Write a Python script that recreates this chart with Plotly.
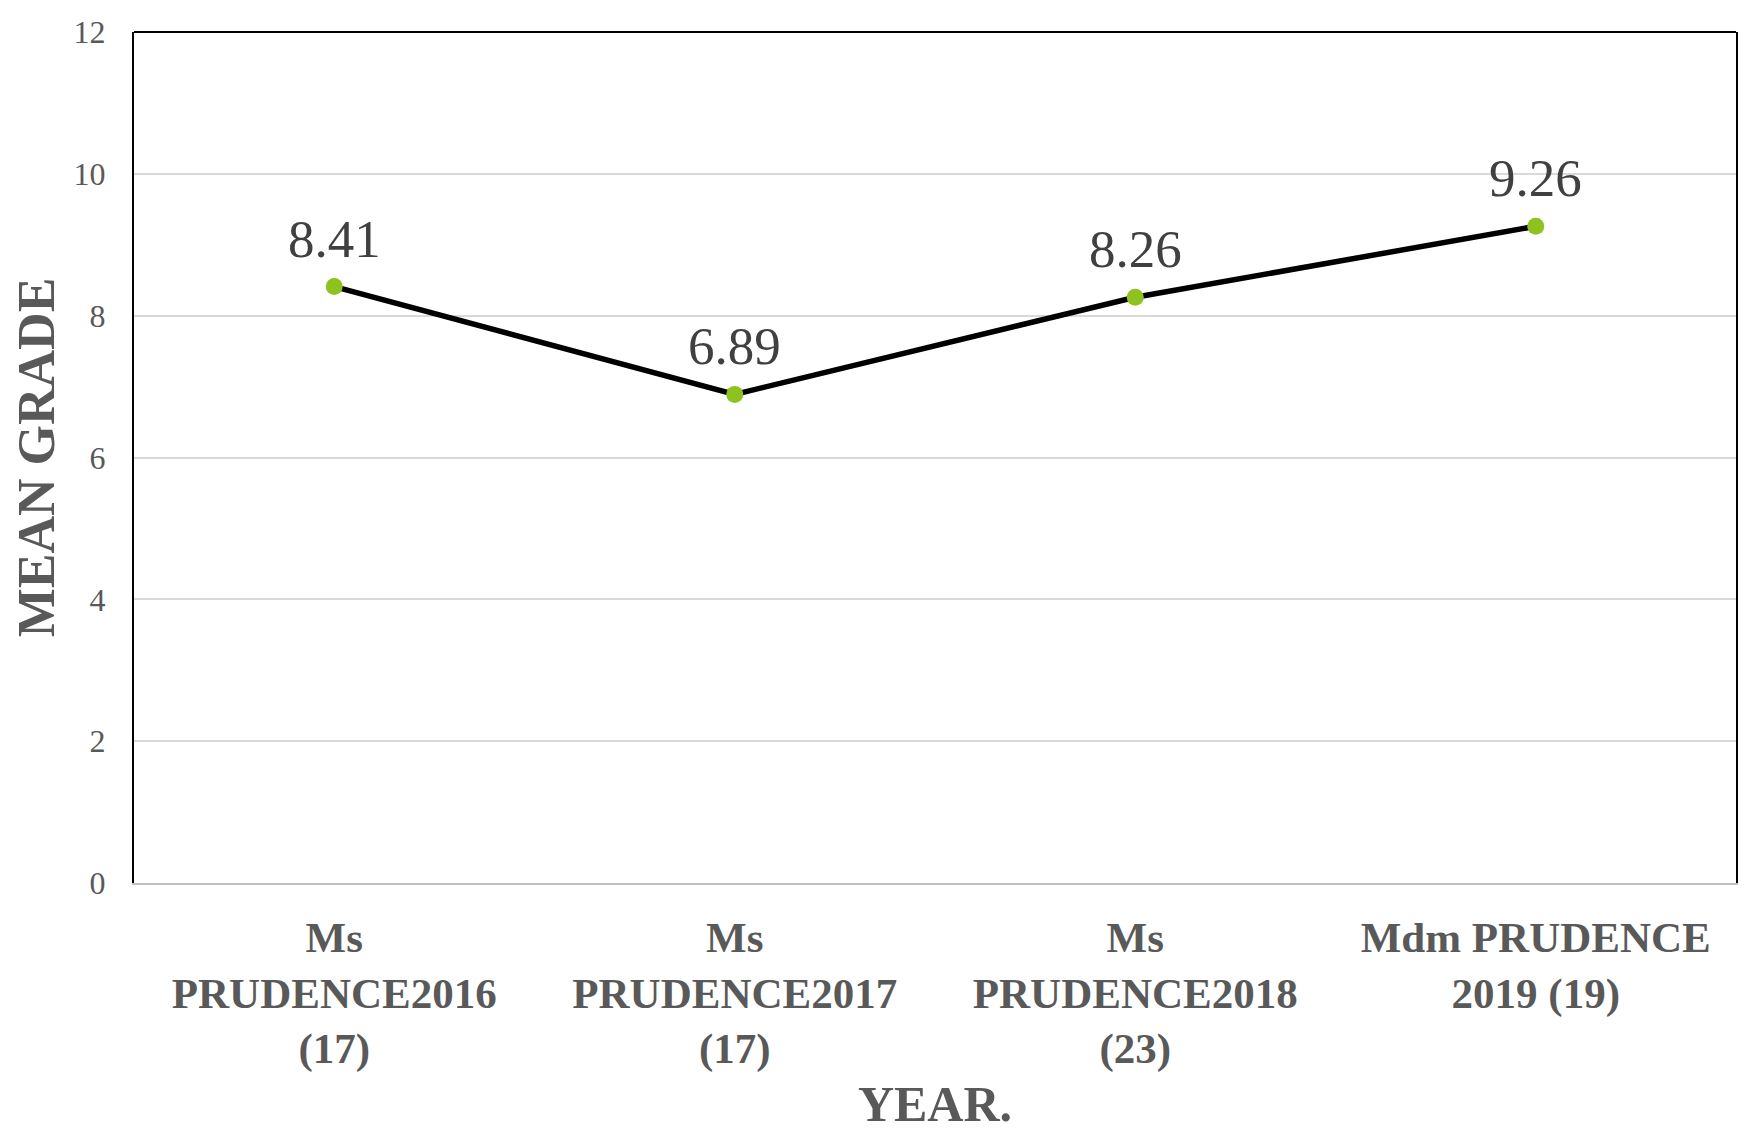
import plotly.graph_objects as go

categories = ["Ms<br>PRUDENCE2016<br>(17)", "Ms<br>PRUDENCE2017<br>(17)",
              "Ms<br>PRUDENCE2018<br>(23)", "Mdm PRUDENCE<br>2019 (19)"]
mean_grade = [8.41, 6.89, 8.26, 9.26]
y_ticks = [0, 2, 4, 6, 8, 10, 12]

FONT = "Liberation Serif"

fig = go.Figure()
fig.add_trace(go.Scatter(
    x=categories, y=mean_grade, mode="lines+markers",
    line=dict(color="#000000", width=5.5),
    marker=dict(color="#8DC21F", size=17),
    showlegend=False, hoverinfo="skip",
))
for c, v in zip(categories, mean_grade):
    fig.add_annotation(x=c, y=v, text=f"{v:.2f}", showarrow=False,
                       yanchor="middle", yshift=48,
                       font=dict(family=FONT, size=53, color="#404040"))

fig.add_shape(type="line", xref="paper", yref="paper", x0=0, x1=1, y0=1, y1=1,
              line=dict(color="#000000", width=2))

fig.update_layout(
    width=1746, height=1131,
    margin=dict(l=126, r=18, t=24, b=256),
    paper_bgcolor="white", plot_bgcolor="white",
    font=dict(family=FONT, color="#595959"),
)
fig.update_xaxes(
    automargin=False, range=[-0.5, len(categories) - 0.5],
    showline=True, linecolor="#BFBFBF", linewidth=2, showgrid=False,
    ticks="", ticklabelstandoff=15, ticklabeloverflow="allow",
    tickfont=dict(family=FONT, size=43, color="#595959", weight="bold"),
    title=dict(text="<b>YEAR.</b>", font=dict(family=FONT, size=50, color="#595959"), standoff=14),
)
fig.update_yaxes(
    automargin=False, ticklabeloverflow="allow",
    range=[0, 12], tickvals=y_ticks, showline=True, mirror=True,
    linecolor="#000000", linewidth=2, showgrid=True, gridcolor="#D9D9D9", gridwidth=2,
    zeroline=False, ticks="", ticklabelstandoff=20,
    tickfont=dict(family=FONT, size=32, color="#595959"),
    title=dict(text="<b>MEAN GRADE</b>", font=dict(family=FONT, size=52, color="#595959"), standoff=18),
)

fig.write_html("out.html")
